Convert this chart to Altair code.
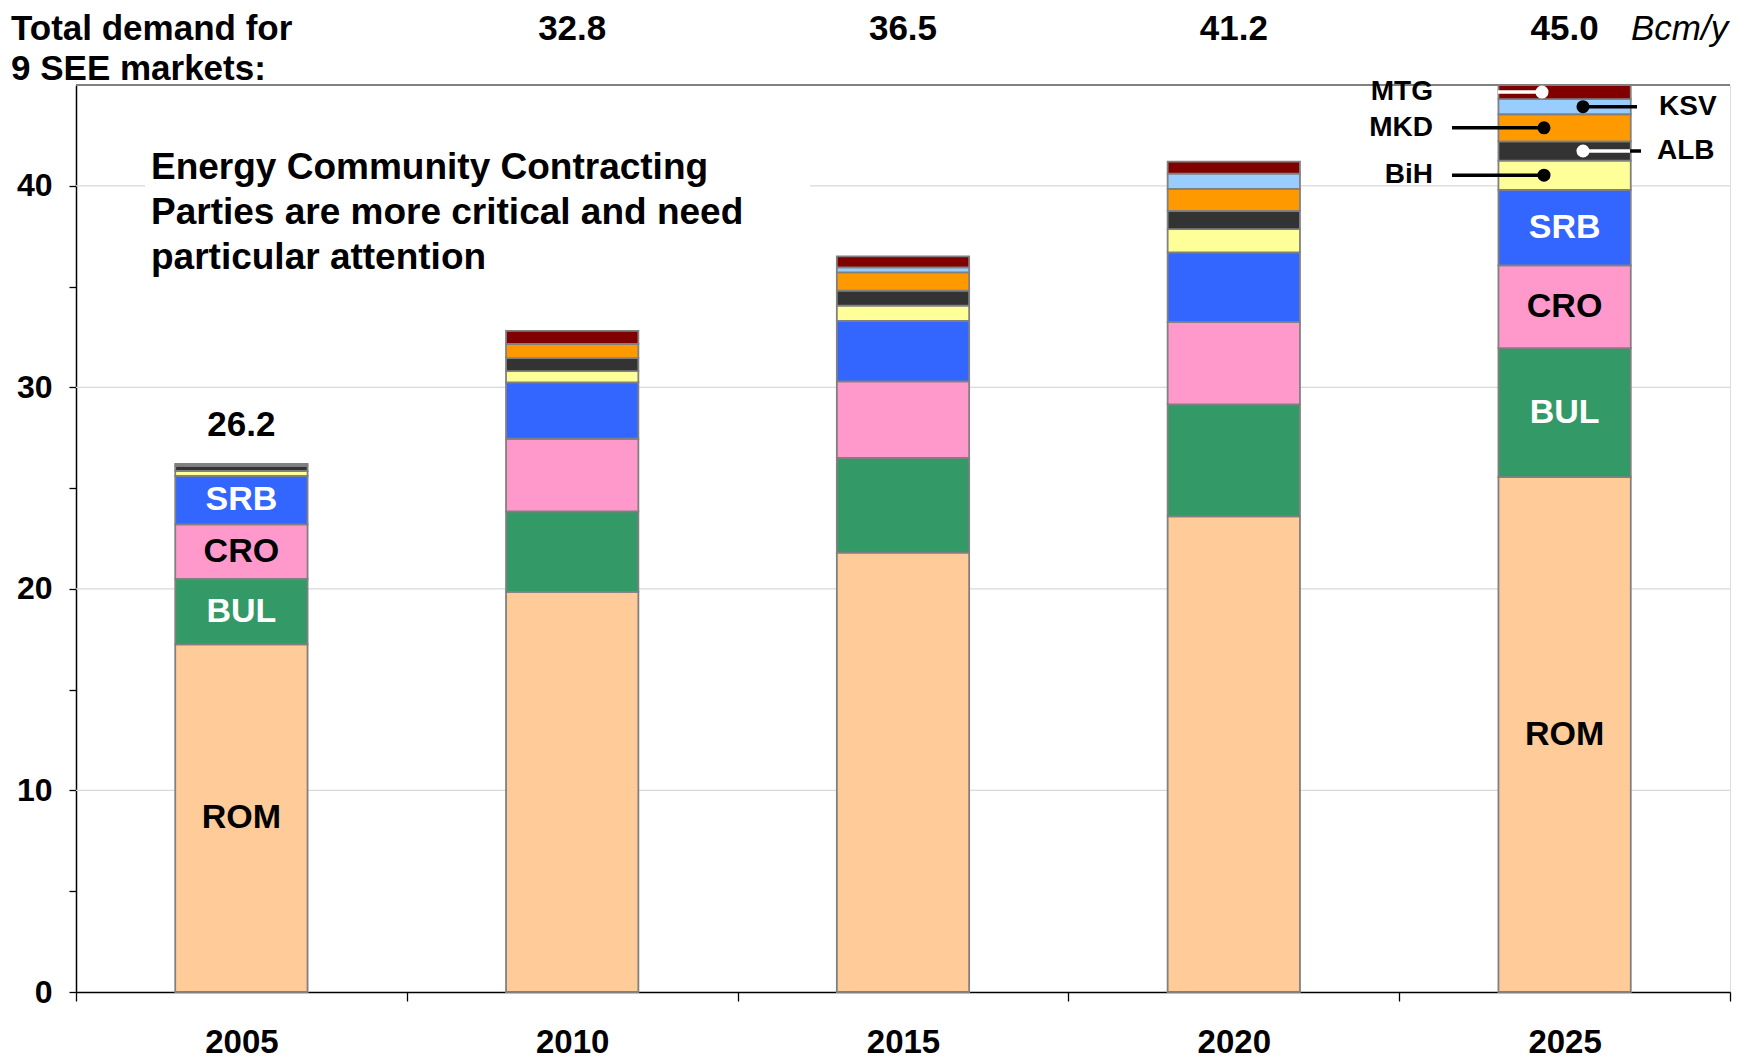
import altair as alt
import pandas as pd

FONT = "Liberation Sans"

years = ["2005", "2010", "2015", "2020", "2025"]
series = ["ROM", "BUL", "CRO", "SRB", "BiH", "ALB", "MKD", "KSV", "MTG"]
colors = ["#FFCC99", "#339966", "#FF99CC", "#3366FF", "#FFFF99",
          "#333333", "#FF9900", "#99CCFF", "#800000"]

ROM = [17.25, 19.85, 21.8, 23.6, 25.55]
BUL = [3.25, 4.0, 4.7, 5.55, 6.4]
CRO = [2.7, 3.6, 3.8, 4.1, 4.1]
SRB = [2.4, 2.8, 3.0, 3.45, 3.75]
BiH = [0.25, 0.55, 0.75, 1.15, 1.45]
ALB = [0.25, 0.65, 0.75, 0.9, 0.95]
MKD = [0.1, 0.7, 0.9, 1.1, 1.35]
KSV = [0.0, 0.0, 0.25, 0.75, 0.75]
MTG = [0.0, 0.65, 0.55, 0.6, 0.7]

total_labels = ["26.2", "32.8", "36.5", "41.2", "45.0"]
totals = [26.2, 32.8, 36.5, 41.2, 45.0]
grid_values = [10, 20, 30, 40]
y_tick_values = [0, 5, 10, 15, 20, 25, 30, 35, 40]

labelled_years = ["2005", "2025"]
labelled_series = ["ROM", "BUL", "CRO", "SRB"]
labelled_colors = ["black", "white", "black", "white"]

header_lines = ["Total demand for", "9 SEE markets:"]
note_lines = ["Energy Community Contracting",
              "Parties are more critical and need",
              "particular attention"]
unit_label = "Bcm/y"

values = [ROM, BUL, CRO, SRB, BiH, ALB, MKD, KSV, MTG]

rows = []
for yi, yr in enumerate(years):
    base = 0.0
    for si, s in enumerate(series):
        v = values[si][yi]
        rows.append({"year": yr, "series": s, "idx": si, "value": v,
                     "start": base, "end": base + v, "mid": base + v / 2})
        base += v
df = pd.DataFrame(rows)

yscale = alt.Scale(domain=[0, 45], nice=False, zero=True)
xscale = alt.Scale(domain=years, paddingInner=0, paddingOuter=0)

yaxis = alt.Axis(
    title=None, values=y_tick_values, grid=False,
    labelExpr="datum.value % 10 == 0 ? datum.label : ''",
    labelFont=FONT, labelFontSize=32, labelFontWeight="bold", labelColor="black",
    domainColor="black", domainWidth=1.5, tickColor="black", tickWidth=1.3,
    tickSize=7, labelPadding=17)
xaxis = alt.Axis(
    title=None, labelAngle=0, tickBand="extent",
    labelFont=FONT, labelFontSize=33, labelFontWeight="bold", labelColor="black",
    domainColor="black", domainWidth=1.5, tickColor="black", tickWidth=1.3,
    tickSize=9, labelPadding=25)


def X(field="year:N"):
    return alt.X(field, scale=xscale, sort=years, axis=xaxis)


def Y(field):
    return alt.Y(field, scale=yscale, axis=yaxis)


# grid lines
grid = alt.Chart(pd.DataFrame({"v": grid_values})).mark_rule(
    color="#d9d9d9", strokeWidth=1.2
).encode(y=Y("v:Q"))

top_line = alt.Chart(pd.DataFrame({"v": [45]})).mark_rule(
    color="#808080", strokeWidth=1.8
).encode(y=Y("v:Q"))

note_bg = alt.Chart(pd.DataFrame({"a": [0]})).mark_rect(color="white").encode(
    x=alt.value(69), x2=alt.value(734), y=alt.value(58), y2=alt.value(196)
)

bars = alt.Chart(df).mark_bar(
    stroke="#808080", strokeWidth=1.8, width=alt.RelativeBandSize(0.4)
).encode(
    x=X(),
    y=alt.Y("value:Q", stack="zero", scale=yscale, axis=yaxis),
    color=alt.Color("series:N", scale=alt.Scale(domain=series, range=colors), legend=None),
    order=alt.Order("idx:Q", sort="ascending"),
)

lab_df = df[df["year"].isin(labelled_years) & df["series"].isin(labelled_series)].copy()
lab_df["tc"] = lab_df["series"].map(dict(zip(labelled_series, labelled_colors)))
seg_labels = alt.Chart(lab_df).mark_text(
    font=FONT, fontSize=34, fontWeight="bold", baseline="middle"
).encode(
    x=X(),
    y=Y("mid:Q"),
    text="series:N",
    color=alt.Color("tc:N", scale=None),
)

tot_df = pd.DataFrame({"year": years, "total": totals, "label": total_labels})
tot_first = alt.Chart(tot_df.iloc[:1]).mark_text(
    font=FONT, fontSize=35, fontWeight="bold", baseline="middle", dy=-39, color="black"
).encode(
    x=X(),
    y=Y("total:Q"),
    text="label:N",
)
tot_rest = alt.Chart(tot_df.iloc[1:]).mark_text(
    font=FONT, fontSize=35, fontWeight="bold", baseline="middle", color="black"
).encode(
    x=X(),
    y=alt.value(-56),
    text="label:N",
)


def free_text(txt, x, y, size, align="left", weight="bold", style="normal"):
    return alt.Chart(pd.DataFrame({"t": [txt]})).mark_text(
        font=FONT, fontSize=size, fontWeight=weight, fontStyle=style,
        align=align, baseline="middle", color="black"
    ).encode(x=alt.value(x), y=alt.value(y), text="t:N")


texts = [
    free_text(header_lines[0], -65, -56, 35),
    free_text(header_lines[1], -65, -16, 35),
    free_text(unit_label, 1555, -56, 35, weight="normal", style="italic"),
    free_text(note_lines[0], 75, 83, 37),
    free_text(note_lines[1], 75, 128, 37),
    free_text(note_lines[2], 75, 173, 37),
]

last = df[df["year"] == "2025"].set_index("series")


def callout_line(s, x0, x1, col):
    return alt.Chart(pd.DataFrame({"mid": [last.loc[s, "mid"]]})).mark_rule(
        color=col, strokeWidth=3.5
    ).encode(x=alt.value(x0), x2=alt.value(x1), y=Y("mid:Q"))


def callout_dot(s, x, col):
    return alt.Chart(pd.DataFrame({"mid": [last.loc[s, "mid"]]})).mark_point(
        filled=True, size=170, color=col, opacity=1
    ).encode(x=alt.value(x), y=Y("mid:Q"))


def callout_text(s, x, align):
    return alt.Chart(pd.DataFrame({"mid": [last.loc[s, "mid"]], "t": [s]})).mark_text(
        font=FONT, fontSize=28, fontWeight="bold", align=align, baseline="middle", color="black"
    ).encode(x=alt.value(x), y=Y("mid:Q"), text="t:N")


callouts = [
    callout_line("MTG", 1422, 1466, "white"), callout_dot("MTG", 1466, "white"),
    callout_text("MTG", 1357, "right"),
    callout_line("MKD", 1376, 1468, "black"), callout_dot("MKD", 1468, "black"),
    callout_text("MKD", 1357, "right"),
    callout_line("BiH", 1376, 1468, "black"), callout_dot("BiH", 1468, "black"),
    callout_text("BiH", 1357, "right"),
    callout_line("KSV", 1507, 1561, "black"), callout_dot("KSV", 1507, "black"),
    callout_text("KSV", 1583, "left"),
    callout_line("ALB", 1507, 1554, "white"), callout_line("ALB", 1554, 1565, "black"),
    callout_dot("ALB", 1507, "white"),
    callout_text("ALB", 1581, "left"),
]

chart = alt.layer(
    grid, note_bg, top_line, bars, seg_labels, tot_first, tot_rest, *texts, *callouts
).properties(
    width=1654, height=907,
    autosize=alt.AutoSizeParams(type="none"),
    padding={"left": 68, "top": 77, "right": 4, "bottom": 70},
).configure_view(stroke=None).configure(background="white")

chart.save("out.html", embed_options={"renderer": "svg", "actions": False})
